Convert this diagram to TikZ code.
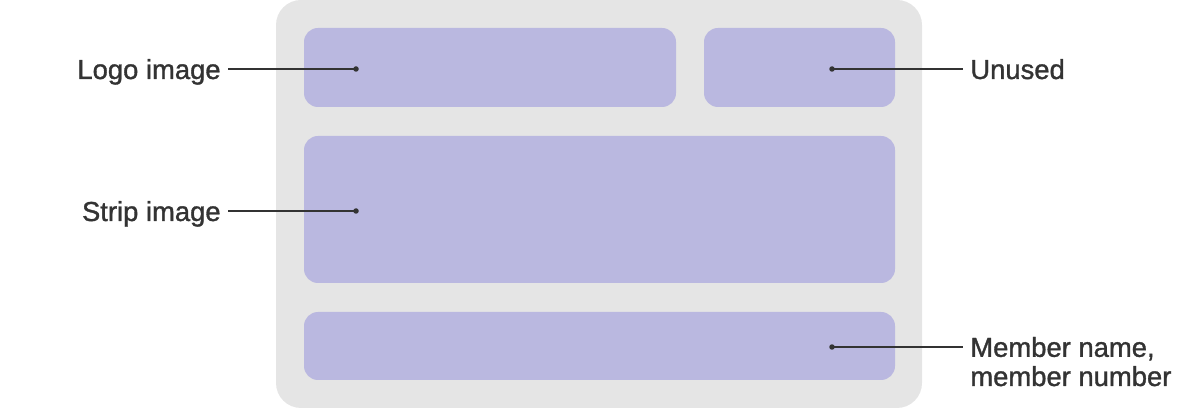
\documentclass[tikz,border=0pt]{standalone}
\usepackage{fontspec}
\setmainfont{Liberation Sans}
\newfontfamily\lblfont{Liberation Sans}[FakeBold=1.2]
\usetikzlibrary{positioning}

\definecolor{panelgray}{HTML}{E5E5E5}
\definecolor{slotpurple}{HTML}{BAB8E0}
\definecolor{inkgray}{HTML}{333333}

\begin{document}
\begin{tikzpicture}[x=0.02cm, y=-0.02cm,
  panel/.style={fill=panelgray, rounded corners=0.5cm},
  slot/.style={fill=slotpurple, rounded corners=0.28cm},
  lbl/.style={text=inkgray, inner ysep=0pt, inner xsep=0.14cm,
    font=\lblfont\fontsize{15.6}{16.6}\selectfont, align=left},
  lead/.style={draw=inkgray, line width=0.04cm},
  pin/.style={fill=inkgray}]

  \useasboundingbox (0,0) rectangle (1200,408);

  \newcommand\LX{304};
  \newcommand\RX{895};

  % card and its slots
  \fill[panel] (276,0) rectangle (922,408);
  \fill[slot] (\LX,28) rectangle (676,107);
  \fill[slot] (704,28) rectangle (\RX,107);
  \fill[slot] (\LX,136) rectangle (\RX,283);
  \fill[slot] (\LX,312) rectangle (\RX,380);

  \coordinate (logodot) at (356,69);
  \coordinate (unuseddot) at (832,69);
  \coordinate (stripdot) at (356,211);
  \coordinate (memberdot) at (832,347);

  \node[lbl, anchor=base east] (logolbl) at (228,79) {Logo image};
  \node[lbl, anchor=base west] (unusedlbl) at (963,79) {Unused};
  \node[lbl, anchor=base east] (striplbl) at (228,221) {Strip image};
  % base is the last line here
  \node[lbl, anchor=base west] (memberlbl) at (963,386)
    {Member name,\\member number};

  \draw[lead] (logodot) -- (logolbl.east |- logodot);
  \draw[lead] (unuseddot) -- (unusedlbl.west |- unuseddot);
  \draw[lead] (stripdot) -- (striplbl.east |- stripdot);
  \draw[lead] (memberdot) -- (memberlbl.west |- memberdot);

  \foreach \d in {logodot, unuseddot, stripdot, memberdot}
    \fill[pin] (\d) circle (0.055cm);

\end{tikzpicture}
\end{document}
